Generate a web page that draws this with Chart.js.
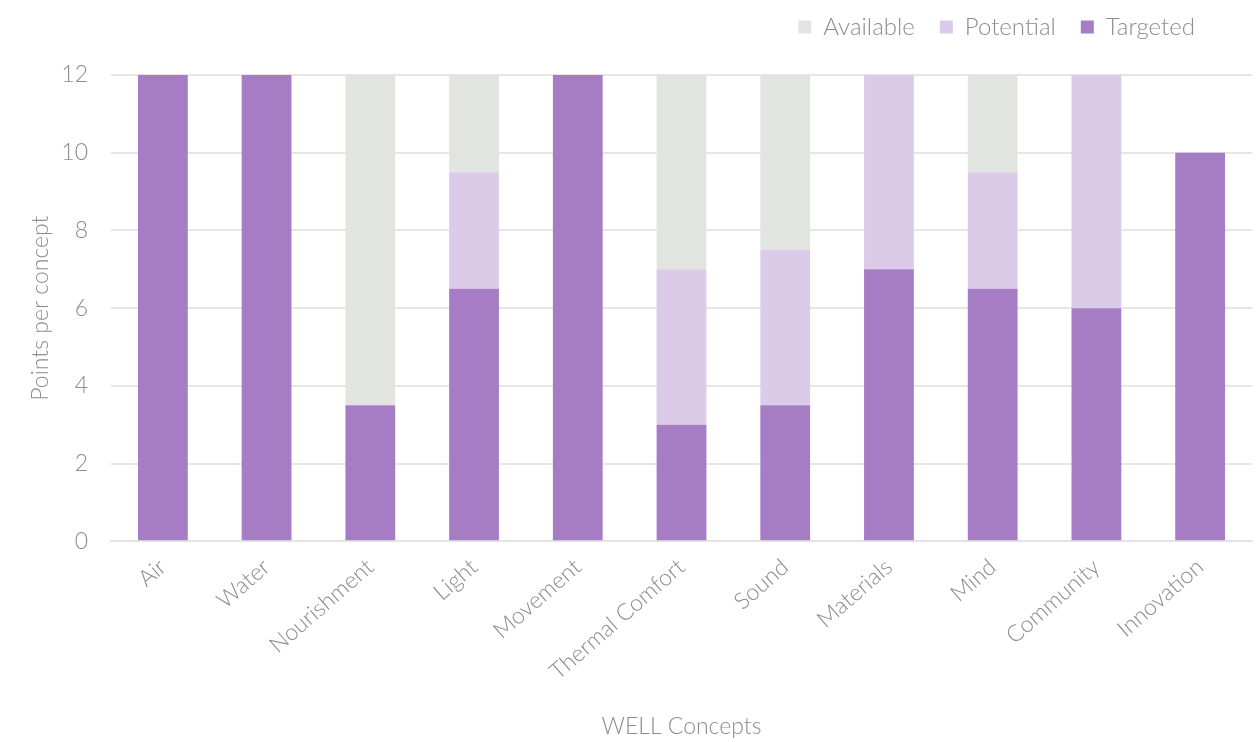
<!DOCTYPE html>
<html>
<head>
<meta charset="utf-8">
<script src="https://cdn.jsdelivr.net/npm/chart.js@4.4.1/dist/chart.umd.min.js"></script>
<style>
  html, body { margin: 0; padding: 0; background: #fff; }
  #wrap { width: 1260px; height: 742px; }
</style>
</head>
<body>
<div id="wrap"><canvas id="grafico-well"></canvas></div>
<script>
// conceitos e pontos por conceito
const concepts = ["Air", "Water", "Nourishment", "Light", "Movement", "Thermal Comfort", "Sound", "Materials", "Mind", "Community", "Innovation"];
const targeted = [12, 12, 3.5, 6.5, 12, 3, 3.5, 7, 6.5, 6, 10];
const potential = [0, 0, 0, 3, 0, 4, 4, 5, 3, 6, 0];
const available = [0, 0, 8.5, 2.5, 0, 5, 4.5, 0, 2.5, 0, 0];
const yTicks = [0, 2, 4, 6, 8, 10, 12];

const grafico = document.getElementById("grafico-well");
const cinza = "#8c8c8c";
Chart.defaults.font.family = "Lato, 'Open Sans', sans-serif";
Chart.defaults.color = cinza;

// legenda: mais espaco embaixo e um pouco para a esquerda
const legendaAjuste = {
  id: "legendaAjuste",
  afterInit(chart) {
    const legenda = chart.legend;
    const fitOriginal = legenda.fit;
    legenda.fit = function () {
      fitOriginal.call(this);
      this.height += 26;
    };
  },
  afterUpdate(chart) { chart.legend.right -= 32; },
};

new Chart(grafico, {  //barras empilhadas, targeted embaixo
  type: "bar",
  data: {
    labels: concepts,
    datasets: [
      { label: "Targeted", data: targeted, backgroundColor: "#a67dc4" },
      { label: "Potential", data: potential, backgroundColor: "#dbcbe8" },
      { label: "Available", data: available, backgroundColor: "#e2e4e2" },
    ],
  },
  plugins: [legendaAjuste],
  options: {
    responsive: true,
    maintainAspectRatio: false,
    animation: false,
    layout: { padding: { left: 27, right: 8, top: -10, bottom: 0 } },
    datasets: { bar: { barPercentage: 0.96, categoryPercentage: 0.5 } },
    plugins: {
      tooltip: { enabled: false },
      legend: {
        position: "top",
        align: "end",
        reverse: true,
        labels: {
          boxWidth: 13,
          boxHeight: 13,
          padding: 25,
          font: { size: 24, weight: 300 },
          color: cinza,
        },
      },
    },
    scales: {
      x: {
        stacked: true,
        grid: { display: false, drawTicks: false },
        border: { color: "#e4e4e4", width: 2 },
        ticks: {
          maxRotation: 41,
          minRotation: 41,
          padding: 12,
          font: { size: 23, weight: 300 },
          color: cinza,
        },
        title: {
          display: true,
          text: "WELL Concepts",
          font: { size: 23, weight: 300 },
          color: cinza,
          padding: { top: 15, bottom: 2 },
        },
      },
      y: {
        stacked: true,
        min: 0,
        max: 12,
        afterBuildTicks: (axis) => { axis.ticks = yTicks.map(v => ({ value: v })); },
        afterFit: (axis) => { axis.width = 84; },
        grid: { color: "#e6e6e6", lineWidth: 2, drawTicks: false },
        border: { display: false },
        ticks: {
          padding: 23,
          font: { size: 23, weight: 300 },
          color: cinza,
        },
        title: {
          display: true,
          text: "Points per concept",
          font: { size: 23, weight: 300 },
          color: cinza,
          padding: 0,
        },
      },
    },
  },
});
</script>
</body>
</html>
